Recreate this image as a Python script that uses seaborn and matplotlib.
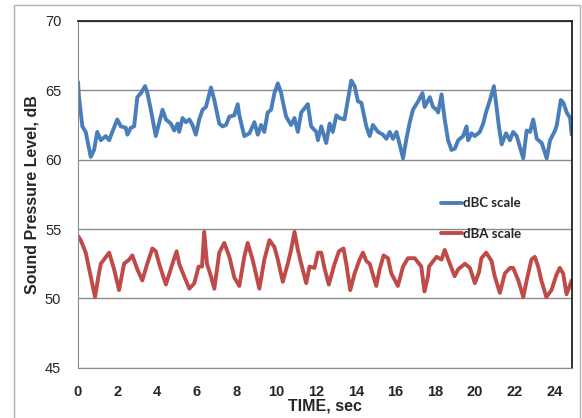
import pandas as pd
import numpy as np
import matplotlib.pyplot as plt
import seaborn as sns
from matplotlib.patches import Rectangle

# dBC trace (time in sec, level in dB)
dbc_time = [0.00, 0.05, 0.22, 0.39, 0.64, 0.81, 0.97, 1.15, 1.40, 1.57, 1.73, 1.98, 2.16, 2.41, 2.49,
            2.66, 2.83, 2.99, 3.17, 3.38, 3.50, 3.67, 3.92, 4.26, 4.43, 4.68, 4.85, 5.02, 5.10, 5.27,
            5.44, 5.61, 5.77, 5.94, 6.11, 6.28, 6.45, 6.70, 6.87, 7.12, 7.29, 7.46, 7.63, 7.88, 8.05,
            8.13, 8.38, 8.64, 8.89, 9.06, 9.23, 9.39, 9.56, 9.73, 9.90, 10.07, 10.24, 10.32, 10.49,
            10.74, 10.91, 11.08, 11.25, 11.58, 11.75, 12.01, 12.09, 12.26, 12.51, 12.68, 12.84, 13.02,
            13.18, 13.43, 13.60, 13.77, 13.94, 14.11, 14.28, 14.53, 14.70, 14.86, 15.12, 15.37, 15.54,
            15.71, 15.87, 16.05, 16.21, 16.38, 16.55, 16.72, 16.88, 17.14, 17.36, 17.47, 17.73, 17.89,
            18.07, 18.15, 18.32, 18.48, 18.65, 18.82, 18.99, 19.16, 19.41, 19.58, 19.66, 19.83, 20.00,
            20.25, 20.42, 20.56, 20.76, 20.96, 21.05, 21.21, 21.35, 21.57, 21.77, 21.93, 22.11, 22.31,
            22.44, 22.61, 22.78, 22.94, 23.12, 23.37, 23.62, 23.79, 24.04, 24.13, 24.33, 24.46, 24.63,
            24.80, 24.88]
dbc_level = [65.6, 64.5, 62.4, 62.0, 60.2, 60.7, 62.0, 61.4, 61.7, 61.4, 62.0, 62.9, 62.4, 62.3, 61.8,
             62.3, 62.4, 64.5, 64.8, 65.3, 64.8, 63.6, 61.7, 63.6, 62.9, 62.6, 62.1, 62.6, 62.0, 63.0,
             62.7, 62.9, 62.5, 61.8, 62.9, 63.6, 63.8, 65.2, 64.3, 62.6, 62.4, 62.5, 63.1, 63.2, 64.0,
             63.2, 61.7, 61.9, 62.7, 61.8, 62.5, 62.0, 63.4, 63.6, 64.8, 65.5, 64.8, 64.2, 63.1,
             62.5, 63.0, 62.0, 63.4, 64.0, 62.4, 62.0, 61.4, 62.4, 61.2, 62.6, 62.0, 63.2,
             63.0, 62.9, 64.3, 65.7, 65.3, 64.2, 64.1, 62.4, 61.7, 62.5, 62.0, 61.8, 61.5,
             62.0, 61.5, 62.0, 61.1, 60.1, 61.5, 62.7, 63.6, 64.2, 64.8, 63.8, 64.5, 63.8,
             63.6, 63.4, 64.7, 62.9, 61.4, 60.7, 60.8, 61.4, 61.7, 62.4, 61.4, 61.9, 61.7,
             62.0, 62.6, 63.4, 64.3, 65.3, 64.3, 62.4, 61.1, 61.9, 61.4, 62.0, 61.7, 60.7,
             60.1, 62.1, 62.0, 62.9, 61.5, 61.2, 60.1, 61.4, 62.1, 62.5, 64.3, 64.1, 63.4,
             63.0, 61.8]

# dBA trace
dba_time = [0.00, 0.14, 0.39, 0.64, 0.86, 1.03, 1.15, 1.57, 1.82, 2.07, 2.32, 2.58, 2.74, 2.99,
            3.24, 3.49, 3.75, 3.92, 4.09, 4.43, 4.76, 4.97, 5.10, 5.35, 5.61, 5.86, 6.08, 6.25,
            6.36, 6.50, 6.70, 6.87, 7.12, 7.37, 7.63, 7.88, 8.13, 8.38, 8.55, 8.80, 9.14, 9.39,
            9.65, 9.90, 10.07, 10.32, 10.57, 10.74, 10.91, 11.08, 11.25, 11.50, 11.67, 11.92,
            12.09, 12.26, 12.42, 12.64, 12.93, 13.15, 13.38, 13.52, 13.72, 13.94, 14.19, 14.36,
            14.53, 14.70, 15.03, 15.20, 15.40, 15.62, 15.79, 16.12, 16.38, 16.63, 16.97, 17.30,
            17.46, 17.64, 17.69, 18.07, 18.32, 18.48, 18.74, 18.98, 19.16, 19.50, 19.75, 20.00,
            20.21, 20.33, 20.57, 20.84, 21.00, 21.26, 21.51, 21.77, 21.93, 22.19, 22.44, 22.61,
            22.85, 23.02, 23.19, 23.35, 23.60, 23.86, 24.11, 24.28, 24.45, 24.62, 24.88]
dba_level = [54.5, 54.2, 53.3, 51.6, 50.1, 51.6, 52.5, 53.3, 52.1, 50.6, 52.5, 52.8, 53.1, 52.1,
             51.3, 52.5, 53.6, 53.4, 52.5, 51.0, 52.5, 53.4, 52.5, 51.6, 50.7, 51.1, 52.3, 52.3,
             54.8, 52.5, 51.6, 50.7, 53.3, 54.0, 53.0, 51.5, 50.9, 53.0, 54.0, 52.8, 50.7, 52.8,
             54.2, 53.7, 52.8, 51.2, 52.5, 53.5, 54.8, 53.5, 52.5, 51.1, 52.3, 52.2,
             53.3, 53.3, 52.2, 51.0, 52.5, 53.4, 53.6, 52.5, 50.6, 51.8, 52.8, 53.3,
             52.7, 52.5, 50.9, 52.1, 53.1, 52.9, 51.8, 50.9, 52.3, 52.9, 52.9, 52.3,
             50.5, 51.6, 52.3, 53.0, 52.8, 53.5, 52.5, 51.6, 52.1, 52.5, 52.2, 51.1,
             51.9, 52.9, 53.3, 52.7, 51.6, 50.4, 51.8, 52.2, 52.2, 51.3, 50.1, 51.3,
             52.8, 53.0, 52.3, 51.3, 50.1, 50.6, 51.7, 52.2, 51.8, 50.3, 51.3, 52.2, 53.3]

series_names = ["dBC scale", "dBA scale"]
y_ticks = [45, 50, 55, 60, 65, 70]
x_ticks = list(range(0, 25, 2))

n = min(len(dba_time), len(dba_level))
df = pd.concat([
    pd.DataFrame({"t": dbc_time, "level": dbc_level, "scale": series_names[0]}),
    pd.DataFrame({"t": dba_time[:n], "level": dba_level[:n], "scale": series_names[1]}),
])

sns.set_style("white")
plt.rcParams["font.family"] = ["Liberation Sans", "DejaVu Sans"]

fig = plt.figure(figsize=(5.82, 4.18), dpi=100)
ax = fig.add_axes([0.134, 0.12, 0.849, 0.83])

sns.lineplot(data=df, x="t", y="level", hue="scale", palette=["#4a7ebb", "#be4b48"],
             linewidth=2.8, ax=ax, sort=False, estimator=None)

ax.set_xlim(0, 24.9)
ax.set_ylim(45, 70)
ax.set_yticks(y_ticks)
ax.set_xticks(x_ticks)
ax.yaxis.grid(True, color="#8a8a8a", linewidth=1)
ax.set_axisbelow(True)
ax.tick_params(axis="y", length=0, pad=12, labelsize=10.5)
ax.tick_params(axis="x", length=0, pad=12, labelsize=10.5)
for lab in ax.get_xticklabels():
    lab.set_fontweight("bold")

for side in ["left", "bottom"]:
    ax.spines[side].set_color("#8a8a8a")
for side in ["top", "right"]:
    ax.spines[side].set_color("#222222")
    ax.spines[side].set_linewidth(1.3)

ax.set_xlabel("TIME, sec", fontsize=11.5, fontweight="bold", labelpad=0)
ax.set_ylabel("Sound Pressure Level, dB", fontsize=11.5, fontweight="bold", labelpad=4)

leg = ax.legend(loc="center left", bbox_to_anchor=(0.71, 0.43), frameon=False,
                handlelength=1.6, handletextpad=0.1, labelspacing=1.4,
                prop={"family": "Lato", "size": 9.5, "weight": "bold"})
for line in leg.get_lines():
    line.set_linewidth(2.8)

fig.patches.append(Rectangle((14 / 582, -0.1), 566 / 582, 1.1 - 5 / 418,
                             transform=fig.transFigure, fill=False,
                             edgecolor="#b0b0b0", linewidth=1))

plt.savefig("out.png", dpi=100)
